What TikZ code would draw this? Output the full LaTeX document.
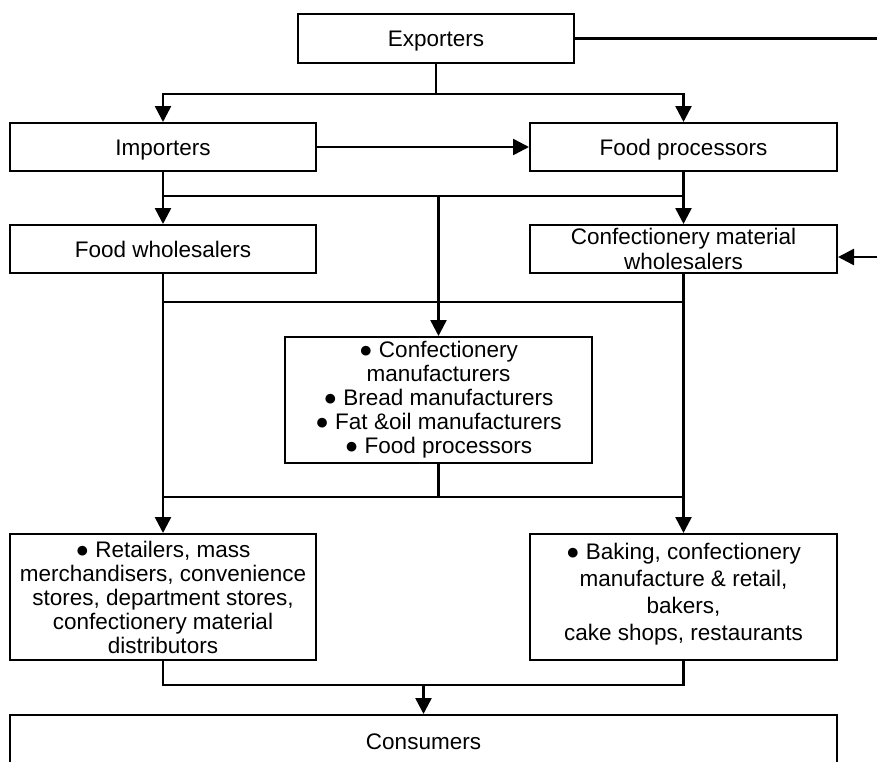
\documentclass[tikz,border=0pt]{standalone}
\usepackage{fontspec}
\setmainfont{Liberation Sans}
\usetikzlibrary{arrows.meta}
\begin{document}
\begin{tikzpicture}[x=1pt,y=-1pt,
  box/.style={draw,line width=2pt,inner sep=0pt,align=center,font=\fontsize{22.5}{24}\selectfont},
  oneline/.style={text height=16pt,text depth=0pt},
  conn/.style={line width=2.5pt},
  arr/.style={conn,-{Triangle[length=16pt,width=16pt]}}
]
\useasboundingbox (0,0) rectangle (877,761);
\clip (0,0) rectangle (877,761);

\node[box,oneline,minimum width=276pt,minimum height=49pt] (exp) at (436,38.5) {Exporters};
\node[box,oneline,minimum width=306pt,minimum height=48pt] (imp) at (163,147) {Importers};
\node[box,oneline,minimum width=307pt,minimum height=48pt] (fp) at (683.5,147) {Food processors};
\node[box,oneline,minimum width=306pt,minimum height=48pt] (fw) at (163,249) {Food wholesalers};
\node[box,minimum width=307pt,minimum height=48pt,font=\fontsize{22.5}{25}\selectfont] (cmw) at (683.5,249) {Confectionery material\\wholesalers};
\node[box,minimum width=307pt,minimum height=126pt] (mid) at (438.5,400) {● Confectionery\\manufacturers\\● Bread manufacturers\\● Fat \&oil manufacturers\\● Food processors};
\node[box,minimum width=306pt,minimum height=126pt] (ret) at (163,597) {● Retailers, mass\\merchandisers, convenience\\stores, department stores,\\confectionery material\\distributors};
\node[box,minimum width=307pt,minimum height=126pt,font=\fontsize{22.5}{27}\selectfont] (bak) at (683.5,597) {● Baking, confectionery\\manufacture \& retail,\\bakers,\\cake shops, restaurants\\[-16pt]};
\node[box,oneline,minimum width=827pt,minimum height=52pt,anchor=north] (con) at (423.5,714) {Consumers};

\coordinate (rout) at (877,37.5);
\coordinate (rin) at (877,257);
\coordinate (h1) at (0,94);
\coordinate (h2) at (0,196);
\coordinate (h3) at (0,302);
\coordinate (h4) at (0,497);
\coordinate (h5) at (0,685);
\coordinate (cx) at (423.5,0);

% Exporters outgoing
\draw[conn] (exp.east) -- (rout |- exp.east);
\draw[conn] (exp.south) -- (exp.south |- h1);
\draw[arr] (exp.south |- h1) -| (imp.north);
\draw[arr] (exp.south |- h1) -| (fp.north);

% Importers -> Food processors
\draw[arr] (imp.east) -- (fp.west);

% second level
\draw[arr] (imp.south) -- (fw.north);
\draw[arr] (fp.south) -- (cmw.north);
\draw[conn] (imp.south |- h2) -- (fp.south |- h2);
\draw[arr] (mid.north |- h2) -- (mid.north);

% incoming from right
\draw[arr] (rin) -- (rin -| cmw.east);

% wholesalers down
\draw[arr] (fw.south) -- (ret.north);
\draw[arr] (cmw.south) -- (bak.north);
\draw[conn] (fw.south |- h3) -- (cmw.south |- h3);
\draw[conn] (ret.north |- h4) -- (bak.north |- h4);
\draw[conn] (mid.south) -- (mid.south |- h4);

% to consumers
\draw[conn] (ret.south) -- (ret.south |- h5) -- (bak.south |- h5) -- (bak.south);
\draw[arr] (cx |- h5) -- (con.north);
\end{tikzpicture}
\end{document}
